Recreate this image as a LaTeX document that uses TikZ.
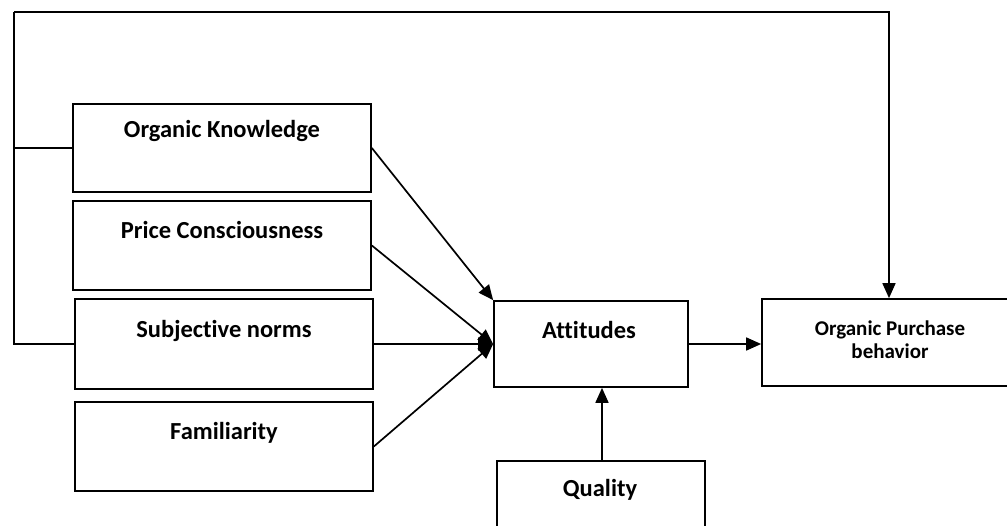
\documentclass[tikz,border=0pt]{standalone}
\usepackage{fontspec}
\setmainfont[Ligatures=NoCommon]{Carlito}
\usetikzlibrary{arrows.meta}
\begin{document}
\begin{tikzpicture}[x=1pt,y=-1pt,
  box/.style={draw, line width=1.7pt, inner sep=0pt},
  lbl/.style={font=\bfseries\fontsize{24.5}{27}\selectfont, anchor=base},
  conn/.style={line width=1.7pt},
  arr/.style={line width=1.7pt, -{Triangle[length=15pt,width=13pt]}}]
\useasboundingbox (0,0) rectangle (1007,525);
\clip (0,0) rectangle (1007,525);
\fill[white] (0,0) rectangle (1007,525);
% boxes
\node[box, minimum width=298pt, minimum height=88pt] (ok) at (222,148) {};
\node[box, minimum width=298pt, minimum height=89pt] (pc) at (222,245.5) {};
\node[box, minimum width=298pt, minimum height=90pt] (sn) at (224,344) {};
\node[box, minimum width=298pt, minimum height=89pt] (fa) at (224,446.5) {};
\node[box, minimum width=194pt, minimum height=86pt] (at) at (591,344) {};
\node[box, minimum width=208pt, minimum height=90pt] (qu) at (601,506) {};
\node[box, minimum width=246pt, minimum height=87pt] (ob) at (885,342.5) {};
% labels
\node[lbl] (tok) at (222,137) {Organic Knowledge};
\node[lbl] (tpc) at (222,238) {Price Consciousness};
\node[lbl] (tsn) at (224,337) {Subjective norms};
\node[lbl] (tfa) at (224,439) {Familiarity};
\node[lbl] (tat) at (589,338) {Attitudes};
\node[lbl] (tqu) at (600,496) {Quality};
\node[font=\bfseries\fontsize{21}{23}\selectfont, align=center, anchor=north] (tob) at (890,317) {Organic Purchase\\behavior};
% connectors
\coordinate (tl) at (14,12);
\coordinate (tr) at (889,12);
\draw[conn] (ok.west) -- (ok.west -| tl) -- (tl);
\draw[conn] (sn.west) -- (sn.west -| tl) -- (ok.west -| tl);
\draw[arr] (tl) -- (tr) -- (ob.north -| tr);
\draw[arr] (ok.east) -- (at.north west);
\draw[arr] (pc.east) -- (at.west);
\draw[arr] (sn.east) -- (at.west);
\draw[arr] (fa.east) -- (at.west);
\draw[arr] (at.east) -- (ob.west |- at.east);
\draw[arr] (qu.north -| 602,0) -- (at.south -| 602,0);
\end{tikzpicture}
\end{document}
